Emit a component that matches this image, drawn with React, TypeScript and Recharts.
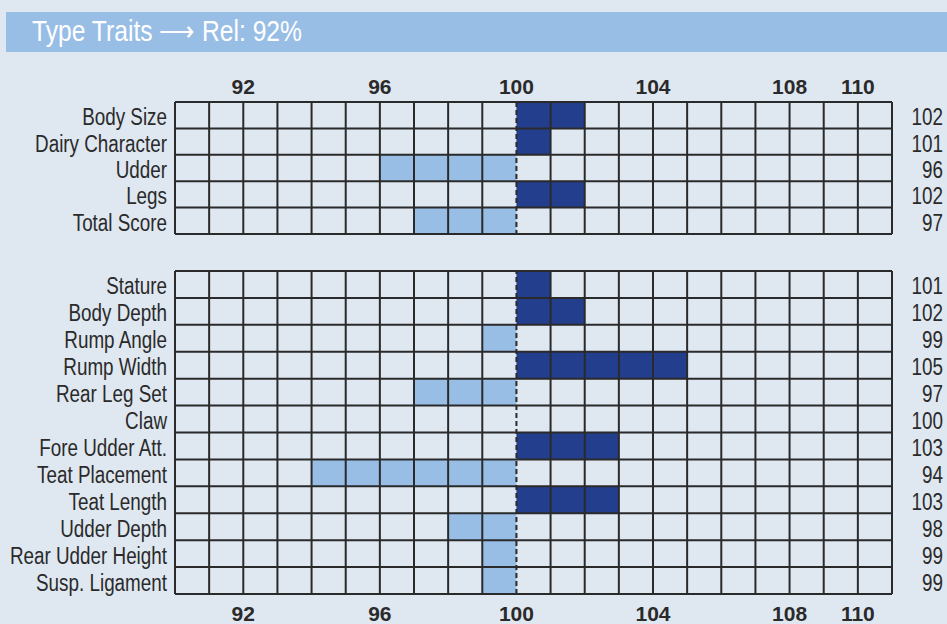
import { Bar, BarChart, CartesianGrid, Cell, ReferenceLine, XAxis, YAxis } from 'recharts'

const conformationTraits = ['Body Size', 'Dairy Character', 'Udder', 'Legs', 'Total Score']
const conformationValues = [102, 101, 96, 102, 97]

const linearTraits = [
  'Stature',
  'Body Depth',
  'Rump Angle',
  'Rump Width',
  'Rear Leg Set',
  'Claw',
  'Fore Udder Att.',
  'Teat Placement',
  'Teat Length',
  'Udder Depth',
  'Rear Udder Height',
  'Susp. Ligament',
]
const linearValues = [101, 102, 99, 105, 97, 100, 103, 94, 103, 98, 99, 99]

const axisTicks = [92, 96, 100, 104, 108, 110]
const scaleMin = 90
const scaleMax = 111
const average = 100

const BG = '#dfe7f1'
const DARK = '#243e8e'
const LIGHT = '#98bee6'
const INK = '#2a2a2a'
const FONT = '"Liberation Sans", Arial, sans-serif'
// no narrow face is installed, so the regular face is squeezed horizontally
const NARROW = 0.82

type Row = { name: string; value: number; range: [number, number] | null }

function toPixel(axis: any, offset: any, v: number) {
  const s = axis?.scale
  if (typeof s === 'function') {
    const p = s(v)
    if (Number.isFinite(p)) return p
  }
  return offset.left + ((v - scaleMin) / (scaleMax - scaleMin)) * offset.width
}

function NarrowText({ x, y, children }: { x: number; y: number; children: any }) {
  return (
    <text
      transform={`translate(${x} ${y}) scale(${NARROW} 1)`}
      textAnchor="end"
      fontFamily={FONT}
      fontSize={23}
      fill={INK}
    >
      {children}
    </text>
  )
}

type TraitGridProps = {
  names: string[]
  values: number[]
  axisSide: 'top' | 'bottom'
  height: number
  marginTop: number
  marginBottom: number
}

function TraitGrid({ names, values, axisSide, height, marginTop, marginBottom }: TraitGridProps) {
  const rows: Row[] = names.map((name, i) => ({
    name,
    value: values[i],
    range: values[i] === average ? null : [Math.min(values[i], average), Math.max(values[i], average)],
  }))

  // solid grid lines on every unit except the dashed average line
  const gridValues: number[] = []
  for (let v = scaleMin; v <= scaleMax; v++) if (v !== average) gridValues.push(v)

  const axisTick = ({ x, y, payload }: any) => (
    <text
      x={x}
      y={y}
      dy={axisSide === 'top' ? 0 : 19}
      textAnchor="middle"
      fontFamily={FONT}
      fontWeight="bold"
      fontSize={21}
      fill={INK}
    >
      {payload.value}
    </text>
  )

  const nameTick = ({ x, y, payload }: any) => (
    <NarrowText x={x} y={y + 10}>
      {payload.value}
    </NarrowText>
  )

  const valueTick = ({ x, y, index }: any) => (
    <NarrowText x={x + 43} y={y + 10}>
      {rows[index]?.value}
    </NarrowText>
  )

  return (
    <BarChart
      layout="vertical"
      width={947}
      height={height}
      data={rows}
      margin={{ top: marginTop, right: 0, bottom: marginBottom, left: 0 }}
      barCategoryGap={0}
    >
      <XAxis
        type="number"
        orientation={axisSide}
        domain={[scaleMin, scaleMax]}
        ticks={axisTicks}
        interval={0}
        allowDataOverflow
        height={30}
        axisLine={false}
        tickLine={false}
        tick={axisTick}
      />
      <YAxis type="category" dataKey="name" width={175} interval={0} axisLine={false} tickLine={false} tick={nameTick} />
      <YAxis
        yAxisId="value"
        orientation="right"
        type="category"
        dataKey="name"
        width={55}
        interval={0}
        axisLine={false}
        tickLine={false}
        tick={valueTick}
      />
      <Bar dataKey="range" isAnimationActive={false}>
        {rows.map((r) => (
          <Cell key={r.name} fill={r.value > average ? DARK : LIGHT} />
        ))}
      </Bar>
      <CartesianGrid
        stroke={INK}
        strokeWidth={2}
        fill="none"
        zIndex={900}
        verticalCoordinatesGenerator={({ xAxis, offset }: any) => gridValues.map((v) => toPixel(xAxis, offset, v))}
        horizontalCoordinatesGenerator={({ offset }: any) =>
          rows.map((_, i) => offset.top + (i * offset.height) / rows.length).concat(offset.top + offset.height)
        }
      />
      <ReferenceLine x={average} stroke={INK} strokeWidth={2} strokeDasharray="5 3" zIndex={1000} />
    </BarChart>
  )
}

export default function App() {
  return (
    <div style={{ position: 'relative', width: 947, height: 624, background: BG, overflow: 'hidden' }}>
      <style>{'body { margin: 0; }'}</style>
      <div style={{ position: 'absolute', top: 0, left: 0 }}>
        <TraitGrid
          names={conformationTraits}
          values={conformationValues}
          axisSide="top"
          height={246}
          marginTop={72}
          marginBottom={12}
        />
      </div>
      <div style={{ position: 'absolute', top: 234, left: 0 }}>
        <TraitGrid
          names={linearTraits}
          values={linearValues}
          axisSide="bottom"
          height={390}
          marginTop={37}
          marginBottom={0}
        />
      </div>
      <div
        style={{
          position: 'absolute',
          top: 12,
          left: 6,
          width: 941,
          height: 40,
          lineHeight: '38px',
          background: LIGHT,
          color: '#ffffff',
          fontFamily: FONT,
          fontSize: 29,
          paddingLeft: 26,
          boxSizing: 'border-box',
          whiteSpace: 'nowrap',
        }}
      >
        <span style={{ display: 'inline-block', transform: 'scaleX(0.85)', transformOrigin: 'left center' }}>
          Type Traits ⟶ Rel: 92%
        </span>
      </div>
    </div>
  )
}
